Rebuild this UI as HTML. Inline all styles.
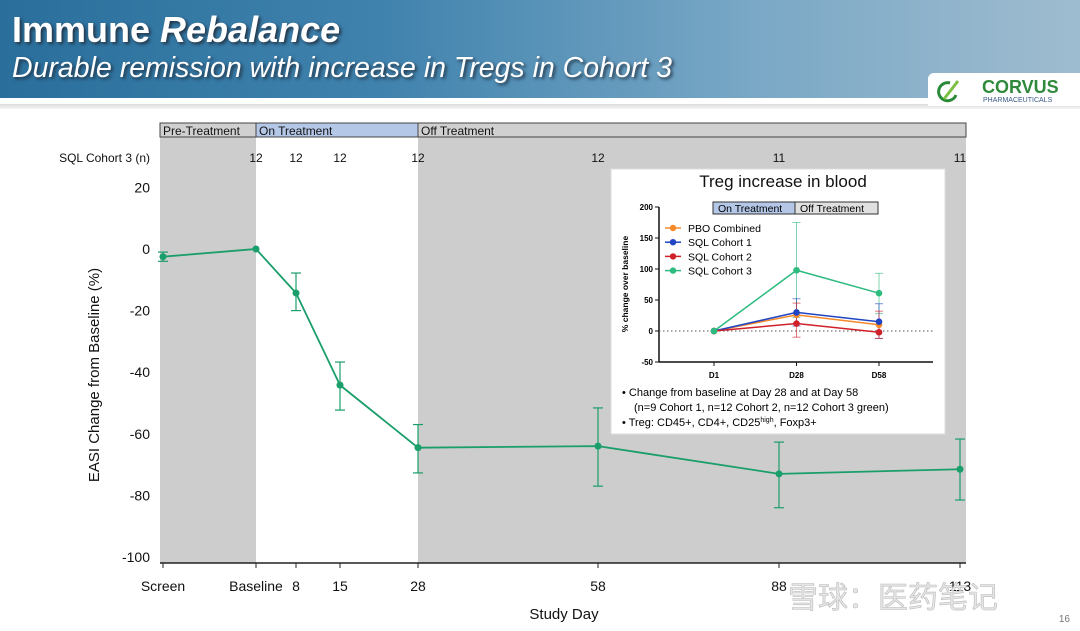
<!DOCTYPE html>
<html><head><meta charset="utf-8"><style>
body{margin:0;width:1080px;height:631px;overflow:hidden;background:#fff;font-family:"Liberation Sans",sans-serif;position:relative}
#hdr{position:absolute;left:0;top:0;width:1080px;height:98px;background:linear-gradient(90deg,#2a6f9c 0%,#3f82ad 35%,#7aa8c6 70%,#9fbccf 100%)}
.t1{position:absolute;left:12px;top:9px;color:#fff;font-size:36px;font-weight:bold;text-shadow:2px 2px 3px #234}
.t2{position:absolute;left:12px;top:52px;color:#fff;font-size:28.5px;font-style:italic;text-shadow:2px 2px 3px #234}
#logo{position:absolute;left:928px;top:73px;width:152px;height:33px;background:#fff;border-radius:6px 0 0 0}
#sep{position:absolute;left:0;top:104px;width:1080px;height:5px;background:linear-gradient(#ddd,#f4f4f4)}
</style></head><body>
<div id="hdr">
<div class="t1">Immune <i>Rebalance</i></div>
<div class="t2">Durable remission with increase in Tregs in Cohort 3</div>
</div>
<div id="sep"></div>
<div id="logo">
<svg width="152" height="33"><path d="M22 10 A9 9 0 1 0 28 22" stroke="#2a8a3a" stroke-width="3" fill="none"/><path d="M16 26 L30 8" stroke="#7bc043" stroke-width="3"/>
<text x="54" y="20" font-size="18" font-weight="bold" fill="#2f8a3c" font-family="Liberation Sans">CORVUS</text>
<text x="55" y="29" font-size="7" fill="#3a5a8a" font-family="Liberation Sans">PHARMACEUTICALS</text></svg></div>
<svg id="chart" width="1080" height="631" style="position:absolute;left:0;top:0" font-family="Liberation Sans">
<g id="main"></g><g id="inset"></g>
<text x="1070" y="622" font-size="10" fill="#777" text-anchor="end">16</text>
<text x="788" y="608" font-size="30" fill="#e6e6e6" stroke="#bbb" stroke-width="0.6">雪球：医药笔记</text>
</svg>
<script>
const days=[-1,0,8,15,28,58,88,113];
const tickLabels=["Screen","Baseline","8","15","28","58","88","113"];
const nLabels=["","12","12","12","12","12","11","11"];
const means=[-2.5,0,-14.3,-44.2,-64.5,-64,-73,-71.5];
const errHi=[-1,0,-7.8,-36.7,-57,-51.6,-62.7,-61.7];
const errLo=[-4,0,-20,-52.3,-72.7,-77,-84,-81.5];
const yTicks=[20,0,-20,-40,-60,-80,-100];
const NS="http://www.w3.org/2000/svg";
function mk(p,tag,a,txt){const e=document.createElementNS(NS,tag);for(const k in a)e.setAttribute(k,a[k]);if(txt!==undefined)e.textContent=txt;p.appendChild(e);return e;}
const kd=[-1,0,8,15,28,58,88,113],kx=[163,256,296,340,418,598,779,960];
function X(d){for(let i=0;i<kd.length-1;i++){if(d<=kd[i+1]){return kx[i]+(d-kd[i])/(kd[i+1]-kd[i])*(kx[i+1]-kx[i]);}}return kx[kx.length-1];}
function Y(v){return 249-v*3.08;}
const g=document.getElementById('main');
let r;
r=mk(g,'rect',{x:160,y:137,width:96,height:426,fill:'#cdcdcd'});

r=mk(g,'rect',{x:418,y:137,width:548,height:426,fill:'#cdcdcd'});

const bands=[[160,256,'#d0d0d0','Pre-Treatment','pre-treatment-header'],[256,418,'#b4c7e7','On Treatment','on-treatment-header'],[418,966,'#d0d0d0','Off Treatment','off-treatment-header']];
bands.forEach(b=>{r=mk(g,'rect',{x:b[0],y:123,width:b[1]-b[0],height:14,fill:b[2],stroke:'#444','stroke-width':1});

mk(g,'text',{x:b[0]+3,y:135,'font-size':12,fill:'#111'},b[3]);});
mk(g,'line',{x1:160,y1:563,x2:966,y2:563,stroke:'#222','stroke-width':1.5});
let t=mk(g,'text',{x:150,y:162,'font-size':12,'text-anchor':'end',fill:'#111'},'SQL Cohort 3 (n)');

yTicks.forEach(v=>{t=mk(g,'text',{x:150,y:Y(v)+5,'font-size':14,'text-anchor':'end',fill:'#111'},v);
});
days.forEach((d,i)=>{const x=X(d);
mk(g,'line',{x1:x,y1:563,x2:x,y2:568,stroke:'#222'});
t=mk(g,'text',{x:x,y:591,'font-size':14,'text-anchor':'middle',fill:'#111'},tickLabels[i]);

if(nLabels[i]){t=mk(g,'text',{x:x,y:162,'font-size':12,'text-anchor':'middle',fill:'#111'},nLabels[i]);
}});
t=mk(g,'text',{x:564,y:619,'font-size':15,'text-anchor':'middle',fill:'#111'},'Study Day');

t=mk(g,'text',{x:0,y:0,'font-size':15,'text-anchor':'middle',fill:'#111',transform:'translate(99,375) rotate(-90)'},'EASI Change from Baseline (%)');

const col='#1a9e6a';
let pts=days.map((d,i)=>X(d)+','+Y(means[i])).join(' ');
r=mk(g,'polyline',{points:pts,fill:'none',stroke:col,'stroke-width':1.8});

days.forEach((d,i)=>{const x=X(d);
if(errHi[i]!==errLo[i]){mk(g,'line',{x1:x,y1:Y(errHi[i]),x2:x,y2:Y(errLo[i]),stroke:col,'stroke-width':1.2});
mk(g,'line',{x1:x-5,y1:Y(errHi[i]),x2:x+5,y2:Y(errHi[i]),stroke:col,'stroke-width':1.2});
mk(g,'line',{x1:x-5,y1:Y(errLo[i]),x2:x+5,y2:Y(errLo[i]),stroke:col,'stroke-width':1.2});}
const c=mk(g,'circle',{cx:x,cy:Y(means[i]),r:3.5,fill:col});
});

const inCats=["D1","D28","D58"];
const inNames=["PBO Combined","SQL Cohort 1","SQL Cohort 2","SQL Cohort 3"];
const inColors=["#f5892a","#1f44c4","#d0202a","#2dbb7f"];
const pbo=[0,26,10];
const c1=[0,30,15];
const c2=[0,12,-2];
const c3=[0,98,61];
const c3Hi=[0,175,93];
const c3Lo=[0,22,28];
const c1Hi=[0,52,44];const c1Lo=[0,8,-12];
const c2Hi=[0,45,32];const c2Lo=[0,-10,-12];
const inTicks=[200,150,100,50,0,-50];
const ig=document.getElementById('inset');
r=mk(ig,'rect',{x:611,y:169,width:334,height:265,fill:'#fff',stroke:'#ddd'});

t=mk(ig,'text',{x:783,y:187,'font-size':17,'text-anchor':'middle',fill:'#111'},'Treg increase in blood');

function IX(i){return 714+i*82.5;}
function IY(v){return 331-v*0.62;}
r=mk(ig,'rect',{x:713,y:202,width:82,height:12,fill:'#b4c7e7',stroke:'#333'});
r=mk(ig,'rect',{x:795,y:202,width:83,height:12,fill:'#e0e0e0',stroke:'#333'});
mk(ig,'text',{x:718,y:212,'font-size':10.5},'On Treatment');
mk(ig,'text',{x:800,y:212,'font-size':10.5},'Off Treatment');
mk(ig,'line',{x1:659,y1:IY(200),x2:659,y2:362,stroke:'#111','stroke-width':1.5});
mk(ig,'line',{x1:659,y1:362,x2:933,y2:362,stroke:'#111','stroke-width':1.5});
mk(ig,'line',{x1:659,y1:IY(0),x2:933,y2:IY(0),stroke:'#555','stroke-dasharray':'1.5,2.5'});
inTicks.forEach(v=>{mk(ig,'line',{x1:655,y1:IY(v),x2:659,y2:IY(v),stroke:'#111'});
t=mk(ig,'text',{x:653,y:IY(v)+3,'font-size':8,'font-weight':'bold','text-anchor':'end'},v);
});
inCats.forEach((c,i)=>{mk(ig,'line',{x1:IX(i),y1:362,x2:IX(i),y2:366,stroke:'#111'});
t=mk(ig,'text',{x:IX(i),y:378,'font-size':8,'font-weight':'bold','text-anchor':'middle'},c);
});
t=mk(ig,'text',{x:0,y:0,'font-size':8.5,'font-weight':'bold','text-anchor':'middle',transform:'translate(628,284) rotate(-90)'},'% change over baseline');

const series=[pbo,c1,c2,c3];
function eb(hi,lo,colr){[1,2].forEach(i=>{mk(ig,'line',{x1:IX(i),y1:IY(hi[i]),x2:IX(i),y2:IY(lo[i]),stroke:colr,opacity:0.6});
mk(ig,'line',{x1:IX(i)-4,y1:IY(hi[i]),x2:IX(i)+4,y2:IY(hi[i]),stroke:colr,opacity:0.6});
mk(ig,'line',{x1:IX(i)-4,y1:IY(lo[i]),x2:IX(i)+4,y2:IY(lo[i]),stroke:colr,opacity:0.6});});}
eb(c3Hi,c3Lo,inColors[3]);eb(c1Hi,c1Lo,inColors[1]);eb(c2Hi,c2Lo,inColors[2]);
series.forEach((s,k)=>{const p=mk(ig,'polyline',{points:s.map((v,i)=>IX(i)+','+IY(v)).join(' '),fill:'none',stroke:inColors[k],'stroke-width':1.5});

s.forEach((v,i)=>{const c=mk(ig,'circle',{cx:IX(i),cy:IY(v),r:3.3,fill:inColors[k]});
});});
inNames.forEach((n,k)=>{const y=228+k*14.2;
mk(ig,'line',{x1:665,y1:y,x2:681,y2:y,stroke:inColors[k],'stroke-width':1.5});
mk(ig,'circle',{cx:673,cy:y,r:3.2,fill:inColors[k]});
t=mk(ig,'text',{x:688,y:y+4,'font-size':10.5},n);
});
t=mk(ig,'text',{x:622,y:396,'font-size':11},'•  Change from baseline at Day 28 and at Day 58');

t=mk(ig,'text',{x:634,y:411,'font-size':11},'(n=9 Cohort 1, n=12 Cohort 2, n=12 Cohort 3 green)');

t=mk(ig,'text',{x:622,y:426,'font-size':11},'•  Treg: CD45+, CD4+, CD25');

mk(t,'tspan',{'font-size':7,dy:-4},'high');
mk(t,'tspan',{'font-size':11,dy:4},', Foxp3+');
</script>
</body></html>
